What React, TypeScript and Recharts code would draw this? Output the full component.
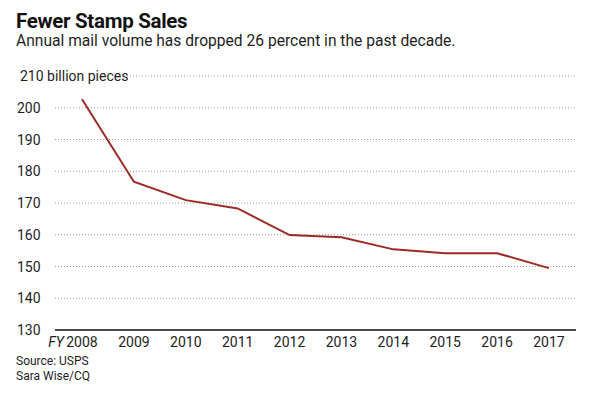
import React from "react";
import { LineChart, Line, XAxis, YAxis, CartesianGrid } from "recharts";

const years = [2008, 2009, 2010, 2011, 2012, 2013, 2014, 2015, 2016, 2017];
const volume = [202.7, 176.7, 170.9, 168.3, 159.9, 159.2, 155.4, 154.2, 154.2, 149.5];
const yTicks = [130, 140, 150, 160, 170, 180, 190, 200, 210];
const topTickLabel = "210 billion pieces";
const fyPrefix = "FY";

const data = years.map((y, i) => ({ year: y, value: volume[i] }));

const FONT = "Roboto, 'Open Sans', sans-serif";
const TEXT = "#1e1e1e";

const YTick = (props: any) => {
  const { x, y, payload } = props;
  const isTop = payload.value === yTicks[yTicks.length - 1];
  const left = x - 38;
  if (isTop) {
    return (
      <g>
        <rect x={left} y={y - 9} width={107} height={18} fill="#fff" />
        <text x={left + 3} y={y} dy="0.36em" fontSize={14} fill={TEXT} fontFamily={FONT}>
          {topTickLabel}
        </text>
      </g>
    );
  }
  return (
    <text x={left} y={y} dy="0.36em" fontSize={14} fill={TEXT} fontFamily={FONT}>
      {payload.value}
    </text>
  );
};

const XTick = (props: any) => {
  const { x, y, payload } = props;
  const isFirst = payload.value === years[0];
  return (
    <g>
      {isFirst && (
        <text x={x - 18} y={y + 17} textAnchor="end" fontSize={14} fontStyle="italic" fill={TEXT} fontFamily={FONT}>
          {fyPrefix}
        </text>
      )}
      <text x={x} y={y + 17} textAnchor="middle" fontSize={14} fill={TEXT} fontFamily={FONT}>
        {payload.value}
      </text>
    </g>
  );
};

export default function App() {
  return (
    <div style={{ position: "absolute", left: 0, top: 0, width: 600, height: 393, background: "#fff", fontFamily: FONT }}>
      <div style={{ position: "absolute", left: 16, top: 10, fontSize: 20.5, fontWeight: 700, color: "#111", lineHeight: "22px", letterSpacing: -0.3 }}>
        Fewer Stamp Sales
      </div>
      <div style={{ position: "absolute", left: 16, top: 31, fontSize: 15.6, color: TEXT, lineHeight: "20px" }}>
        Annual mail volume has dropped 26 percent in the past decade.
      </div>
      <LineChart
        width={600}
        height={393}
        data={data}
        margin={{ top: 76, right: 24, bottom: 33, left: 17 }}
      >
        <CartesianGrid vertical={false} stroke="#9a9a9a" strokeDasharray="1 2" />
        <YAxis
          type="number"
          domain={[130, 210]}
          ticks={yTicks}
          width={38}
          axisLine={false}
          tickLine={false}
          tickSize={0}
          tickMargin={0}
          tick={<YTick />}
          interval={0}
        />
        <XAxis
          dataKey="year"
          type="number"
          domain={[2008, 2017]}
          ticks={years}
          padding={{ left: 27, right: 27 }}
          height={30}
          axisLine={{ stroke: "#4a4a4a", strokeWidth: 2 }}
          tickLine={false}
          tickSize={0}
          tickMargin={0}
          tick={<XTick />}
          interval={0}
        />
        <Line
          type="linear"
          dataKey="value"
          stroke="#9c2a24"
          strokeWidth={2}
          dot={false}
          isAnimationActive={false}
        />
      </LineChart>
      <div style={{ position: "absolute", left: 16, top: 354, fontSize: 12, color: TEXT, lineHeight: "15px" }}>
        Source: USPS
        <br />
        Sara Wise/CQ
      </div>
    </div>
  );
}
